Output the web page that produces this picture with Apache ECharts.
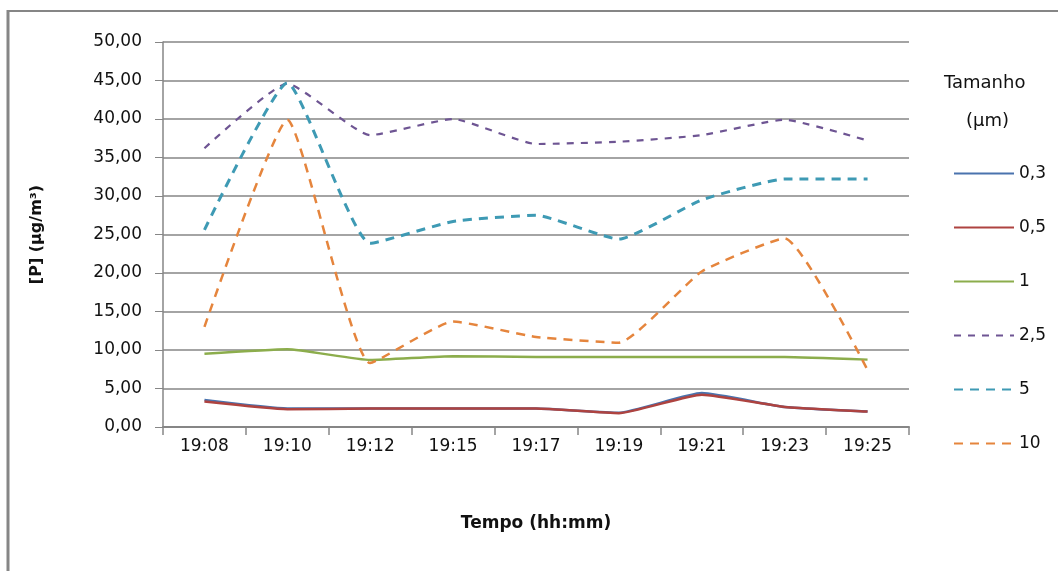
<!DOCTYPE html>
<html>
<head>
<meta charset="utf-8">
<script src="https://cdn.jsdelivr.net/npm/echarts@6/dist/echarts.min.js"></script>
<style>
html,body{margin:0;padding:0;background:#fff;}
#c{width:1058px;height:571px;}
</style>
</head>
<body>
<div id="c"></div>
<script>
const categories = ['19:08','19:10','19:12','19:15','19:17','19:19','19:21','19:23','19:25'];
const s03  = [3.5, 2.4, 2.4, 2.4, 2.4, 1.85, 4.4, 2.6, 2.0];
const s05  = [3.3, 2.3, 2.4, 2.4, 2.4, 1.8, 4.2, 2.6, 2.0];
const s1   = [9.5, 10.1, 8.7, 9.2, 9.1, 9.1, 9.1, 9.1, 8.75];
const s25  = [36.2, 44.6, 37.9, 40.0, 36.75, 37.05, 37.9, 39.9, 37.2];
const s5   = [25.6, 44.7, 23.85, 26.7, 27.5, 24.4, 29.5, 32.2, 32.2];
const s10  = [13.0, 39.9, 8.3, 13.7, 11.7, 10.95, 20.2, 24.5, 7.4];
const seriesNames = ['0,3','0,5','1','2,5','5','10'];
const yAxisMin = 0, yAxisMax = 50, yAxisStep = 5;

const font = 'DejaVu Sans';
const chart = echarts.init(document.getElementById('c'));

function mk(name, data, color, width, dash) {
  return {
    name: name, type: 'line', data: data, symbol: 'none', smooth: 0.15,
    lineStyle: { color: color, width: width, type: dash || 'solid', cap: 'butt' },
    itemStyle: { color: color },
    emphasis: { disabled: true }, animation: false
  };
}

chart.setOption({
  animation: false,
  backgroundColor: '#ffffff',
  grid: { left: 163, top: 42, right: 149, bottom: 144, containLabel: false },
  xAxis: {
    type: 'category', data: categories, boundaryGap: true,
    name: 'Tempo (hh:mm)', nameLocation: 'middle', nameGap: 88,
    nameTextStyle: { fontFamily: font, fontSize: 17, fontWeight: 'bold', color: '#111' },
    axisLine: { show: true, lineStyle: { color: '#868686', width: 2 } },
    axisTick: { show: true, alignWithLabel: false, length: 8, lineStyle: { color: '#868686', width: 1.5 } },
    axisLabel: { fontFamily: font, fontSize: 17, color: '#111', margin: 11 },
    splitLine: { show: false }
  },
  yAxis: {
    type: 'value', min: yAxisMin, max: yAxisMax, interval: yAxisStep,
    name: '[P] (µg/m³)', nameLocation: 'middle', nameGap: 118, nameRotate: 90,
    nameTextStyle: { fontFamily: font, fontSize: 16, fontWeight: 'bold', color: '#111' },
    axisLine: { show: true, lineStyle: { color: '#868686', width: 1.5 } },
    axisTick: { show: true, inside: false, length: 8, lineStyle: { color: '#868686', width: 1 } },
    axisLabel: { fontFamily: font, fontSize: 17, color: '#111', margin: 21,
      formatter: v => v.toFixed(2).replace('.', ',') },
    splitLine: { show: true, lineStyle: { color: '#868686', width: 1.5 } }
  },
  legend: {
    orient: 'vertical', left: 948, top: 160,
    itemWidth: 60, itemHeight: 14, itemGap: 37,
    textStyle: { fontFamily: font, fontSize: 17, color: '#111' },
    itemStyle: { opacity: 0 },
    data: seriesNames,
    selectedMode: false
  },
  graphic: [
    { type: 'line', shape: { x1: 8, y1: 11, x2: 1058, y2: 11 }, style: { stroke: '#868686', lineWidth: 2 }, silent: true },
    { type: 'line', shape: { x1: 8, y1: 10, x2: 8, y2: 571 }, style: { stroke: '#868686', lineWidth: 3 }, silent: true },
    { type: 'text', left: 944, top: 74, style: { text: 'Tamanho', font: '18px "DejaVu Sans"', fill: '#111' } },
    { type: 'text', left: 966, top: 112, style: { text: '(µm)', font: '18px "DejaVu Sans"', fill: '#111' } }
  ],
  series: [
    mk(seriesNames[0], s03, '#4A73AE', 2.5),
    mk(seriesNames[1], s05, '#AE4340', 2.5),
    mk(seriesNames[2], s1, '#8CAD4C', 2.5),
    mk(seriesNames[3], s25, '#6E5593', 2.2, [7, 7]),
    mk(seriesNames[4], s5, '#3E9AB4', 3, [9, 7]),
    mk(seriesNames[5], s10, '#E5853D', 2.5, [9, 7])
  ]
});
</script>
</body>
</html>
